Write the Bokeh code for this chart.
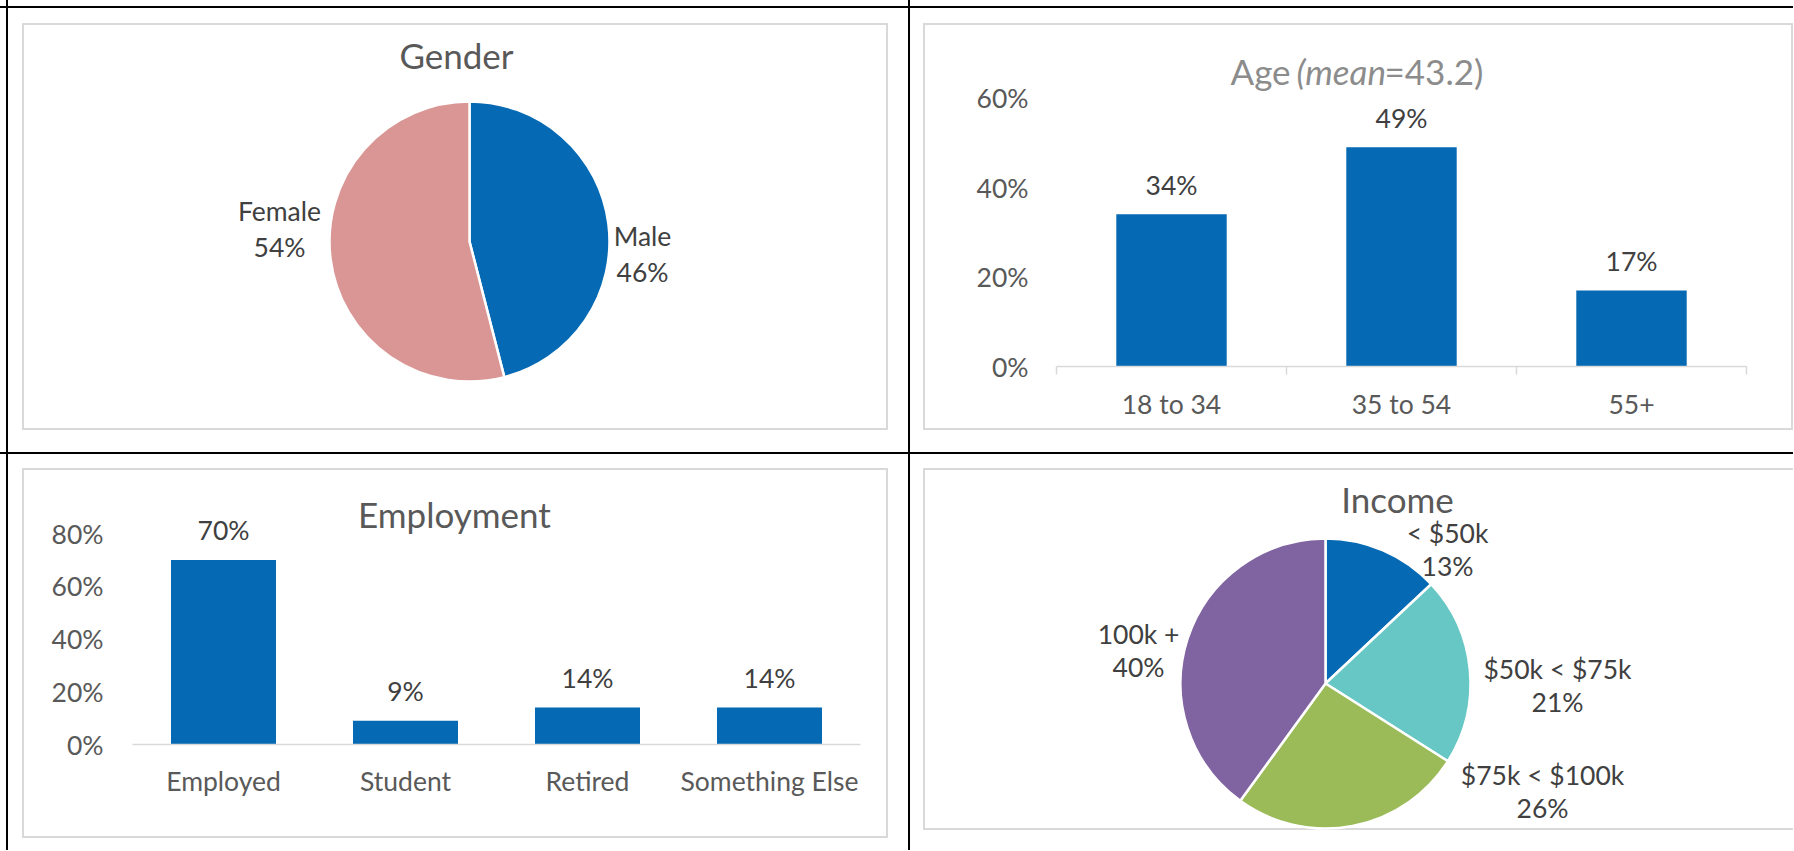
import math
from bokeh.plotting import figure
from bokeh.models import (Range1d, FactorRange, LinearAxis, CategoricalAxis, FixedTicker,
                          PrintfTickFormatter, Label, ColumnDataSource, Grid)
from bokeh.layouts import column, row
from bokeh.core.properties import value
from bokeh.embed import file_html
from bokeh.resources import INLINE

# ---------------- data ----------------
gender_labels = ["Male", "Female"]
gender_values = [46, 54]

age_categories = ["18 to 34", "35 to 54", "55+"]
age_values = [34, 49, 17]
age_ticks = [0, 20, 40, 60]
age_title_parts = ["Age", "(mean", "=43.2)"]

employment_categories = ["Employed", "Student", "Retired", "Something Else"]
employment_values = [70, 9, 14, 14]
employment_ticks = [0, 20, 40, 60, 80]

income_labels = ["< $50k", "$50k < $75k", "$75k < $100k", "100k +"]
income_values = [13, 21, 26, 40]

# ---------------- styles ----------------
FONT = "Lato"
BLUE = "#0569B3"
gender_colors = [BLUE, "#D99694"]
income_colors = [BLUE, "#67C7C4", "#9BBB59", "#8064A2"]
TITLE_COLOR = "#595959"
AGE_TITLE_COLOR = "#8C8C8C"
LABEL_COLOR = "#404040"
TICK_COLOR = "#595959"
BOX_COLOR = "#D9D9D9"
TITLE_SIZE = "35px"
LABEL_SIZE = "26.5px"

W_LEFT, W_RIGHT = 908, 885
H_TOP, H_BOTTOM = 452, 398


def css_rects(rects):
    imgs, pos, sizes = [], [], []
    for (x, y, w, h, c) in rects:
        imgs.append(f"linear-gradient({c}, {c})")
        pos.append(f"{x}px {y}px")
        sizes.append(f"{w}px {h}px")
    return {"background-image": ", ".join(imgs),
            "background-position": ", ".join(pos),
            "background-size": ", ".join(sizes),
            "background-repeat": "no-repeat"}


def frame_rects(l, t, r, b, c=BOX_COLOR, right=True):
    out = [(l, t, r - l + 2, 2, c), (l, b, r - l + 2, 2, c), (l, t, 2, b - t, c)]
    if right:
        out.append((r, t, 2, b - t, c))
    return out


def base_fig(w, h, rects, **kw):
    p = figure(width=w, height=h, output_backend="svg", toolbar_location=None, tools="",
               x_axis_location=None, y_axis_location=None, **kw)
    p.outline_line_color = None
    p.border_fill_color = None
    p.background_fill_color = None
    p.center = [r for r in p.center if not isinstance(r, Grid)]
    p.styles = css_rects(rects)
    return p


def canvas_label(p, x, y, text, size=LABEL_SIZE, color=LABEL_COLOR, align="center", style="normal"):
    p.add_layout(Label(x=x, y=y, x_units="canvas", y_units="canvas", text=text,
                       text_font=FONT, text_font_size=size, text_color=color,
                       text_align=align, text_baseline="middle", text_font_style=style))


def pie(w, h, rects, frame_lr, cx, cy, radius, labels, values, colors, title, title_pos,
        label_pos, gap):
    fl, fr = frame_lr
    p = base_fig(w, h, rects, x_range=Range1d(fl - cx, fr - cx), y_range=Range1d(cy - h, cy),
                 min_border_left=fl, min_border_right=w - fr, min_border_top=0, min_border_bottom=0)
    total = float(sum(values))
    starts, ends, acc = [], [], 0.0
    for v in values:
        s = math.pi / 2 - 2 * math.pi * acc / total
        acc += v
        e = math.pi / 2 - 2 * math.pi * acc / total
        starts.append(s)
        ends.append(e)
    src = ColumnDataSource(dict(start=starts, end=ends, color=colors))
    p.wedge(x=0, y=0, radius=radius, start_angle="start", end_angle="end", direction="clock",
            fill_color="color", line_color="white", line_width=2.5, source=src)
    lsrc = ColumnDataSource(dict(x=[q[0] for q in label_pos], y=[q[1] for q in label_pos],
                                 name=labels, pct=[f"{v}%" for v in values]))
    common = dict(text_font=value(FONT), text_font_size=LABEL_SIZE, text_color=LABEL_COLOR,
                  text_align="center", text_baseline="middle", source=lsrc)
    p.text(x="x", y="y", text="name", y_offset=-gap, **common)
    p.text(x="x", y="y", text="pct", y_offset=gap, **common)
    p.text(x=[title_pos[0]], y=[title_pos[1]], text=[title], text_font=value(FONT),
           text_font_size=TITLE_SIZE, text_color=TITLE_COLOR, text_align="center",
           text_baseline="middle")
    return p


# frame extents (canvas px) of the bar charts; the pies in the same column share them
EMP_L, EMP_R = 132, 860
AGE_L, AGE_R = 148, 838

# ---------------- Gender (top-left) ----------------
tl_rects = [(6, 0, 2, H_TOP, "black"), (0, 6, W_LEFT, 2, "black")] + frame_rects(22, 23, 886, 428)
p_gender = pie(W_LEFT, H_TOP, tl_rects, (EMP_L, EMP_R), 469, 241, 140, gender_labels,
               gender_values, gender_colors, "Gender", (456 - 469, 241 - 54),
               [(173, -12), (-190, 13)], 18)

# ---------------- Age (top-right) ----------------
n_age = len(age_categories)
age_x = [i + 0.5 for i in range(n_age)]          # category centres on a 0..n scale
age_px_per_unit = 89.5 / 20.0
age_frame_top, age_axis_y = 40, 366
tr_rects = [(0, 0, 2, H_TOP, "black"), (0, 6, W_RIGHT, 2, "black")] + frame_rects(15, 23, 883, 428)
p_age = base_fig(W_RIGHT, H_TOP, tr_rects,
                 x_range=Range1d(0, n_age),
                 y_range=Range1d(0, (age_axis_y - age_frame_top) / age_px_per_unit),
                 min_border_left=AGE_L, min_border_right=W_RIGHT - AGE_R,
                 min_border_top=age_frame_top, min_border_bottom=H_TOP - age_axis_y)
ax = LinearAxis(ticker=FixedTicker(ticks=age_x, minor_ticks=list(range(n_age + 1))),
                major_label_overrides={x: c for x, c in zip(age_x, age_categories)},
                major_tick_out=0, major_tick_in=0, minor_tick_out=8, minor_tick_in=0,
                axis_line_color=BOX_COLOR, axis_line_width=1.5,
                minor_tick_line_color=BOX_COLOR, minor_tick_line_width=1.5,
                major_label_standoff=13, major_label_text_font=FONT,
                major_label_text_font_size=LABEL_SIZE, major_label_text_color=TICK_COLOR)
p_age.add_layout(ax, "below")
ay = LinearAxis(ticker=FixedTicker(ticks=age_ticks), formatter=PrintfTickFormatter(format="%d%%"),
                axis_line_color=None, major_tick_out=0, major_tick_in=0, minor_tick_out=0,
                minor_tick_in=0, major_label_standoff=28, major_label_text_font=FONT,
                major_label_text_font_size=LABEL_SIZE, major_label_text_color=TICK_COLOR)
p_age.add_layout(ay, "left")
asrc = ColumnDataSource(dict(x=age_x, top=age_values, lab=[f"{v}%" for v in age_values]))
p_age.vbar(x="x", top="top", width=0.48, fill_color=BLUE, line_color=None, source=asrc)
p_age.text(x="x", y="top", text="lab", y_offset=-29, text_font=value(FONT),
           text_font_size=LABEL_SIZE, text_color=LABEL_COLOR, text_align="center",
           text_baseline="middle", source=asrc)
canvas_label(p_age, 322, 70, age_title_parts[0], TITLE_SIZE, AGE_TITLE_COLOR, "left")
canvas_label(p_age, 388, 70, age_title_parts[1], TITLE_SIZE, AGE_TITLE_COLOR, "left", "italic")
canvas_label(p_age, 476, 70, age_title_parts[2], TITLE_SIZE, AGE_TITLE_COLOR, "left")

# ---------------- Employment (bottom-left) ----------------
emp_px_per_unit = 211.0 / 80.0
emp_frame_top, emp_axis_y = 30, 292
bl_rects = [(6, 0, 2, H_BOTTOM, "black"), (0, 0, W_LEFT, 2, "black")] + frame_rects(22, 16, 886, 384)
p_emp = base_fig(W_LEFT, H_BOTTOM, bl_rects,
                 x_range=FactorRange(factors=employment_categories),
                 y_range=Range1d(0, (emp_axis_y - emp_frame_top) / emp_px_per_unit),
                 min_border_left=EMP_L, min_border_right=W_LEFT - EMP_R,
                 min_border_top=emp_frame_top, min_border_bottom=H_BOTTOM - emp_axis_y)
ex = CategoricalAxis(major_tick_out=0, major_tick_in=0, minor_tick_out=0, minor_tick_in=0,
                     axis_line_color=BOX_COLOR, axis_line_width=1.5,
                     major_label_standoff=20, major_label_text_font=FONT,
                     major_label_text_font_size=LABEL_SIZE, major_label_text_color=TICK_COLOR)
p_emp.add_layout(ex, "below")
ey = LinearAxis(ticker=FixedTicker(ticks=employment_ticks), formatter=PrintfTickFormatter(format="%d%%"),
                axis_line_color=None, major_tick_out=0, major_tick_in=0, minor_tick_out=0,
                minor_tick_in=0, major_label_standoff=29, major_label_text_font=FONT,
                major_label_text_font_size=LABEL_SIZE, major_label_text_color=TICK_COLOR)
p_emp.add_layout(ey, "left")
esrc = ColumnDataSource(dict(x=employment_categories, top=employment_values,
                             lab=[f"{v}%" for v in employment_values]))
p_emp.vbar(x="x", top="top", width=0.577, fill_color=BLUE, line_color=None, source=esrc)
p_emp.text(x="x", y="top", text="lab", y_offset=-30, text_font=value(FONT),
           text_font_size=LABEL_SIZE, text_color=LABEL_COLOR, text_align="center",
           text_baseline="middle", source=esrc)
canvas_label(p_emp, 454, 61, "Employment", TITLE_SIZE, TITLE_COLOR)

# ---------------- Income (bottom-right) ----------------
br_rects = [(0, 0, 2, H_BOTTOM, "black"), (0, 0, W_RIGHT, 2, "black")] + \
    frame_rects(15, 16, 887, 376, right=False)
p_income = pie(W_RIGHT, H_BOTTOM, br_rects, (AGE_L, AGE_R), 417, 231, 145, income_labels,
               income_values, income_colors, "Income", (489 - 417, 231 - 46),
               [(122, 134), (232, -2), (217, -108), (-187, 33)], 16.5)

layout = row(column(p_gender, p_emp), column(p_age, p_income))
open("out.html", "w").write(file_html(layout, INLINE))
